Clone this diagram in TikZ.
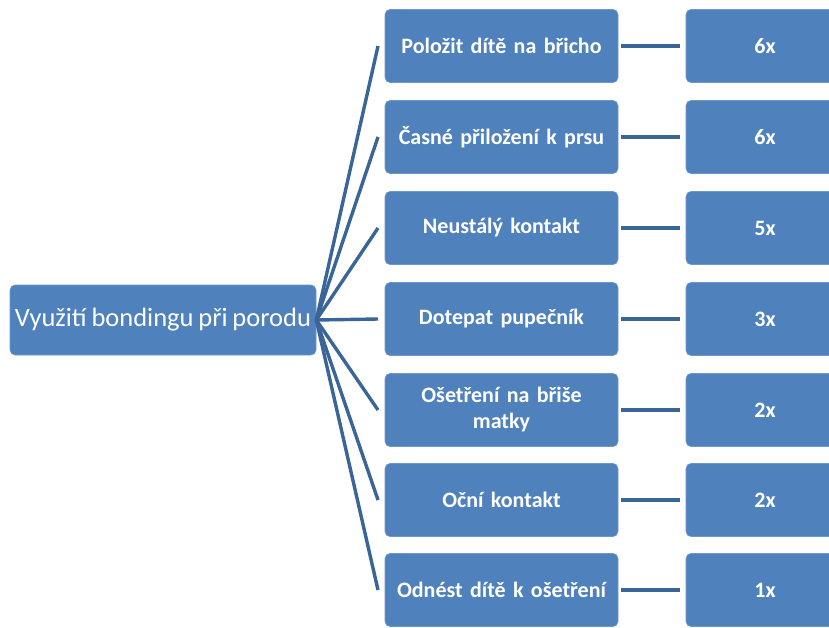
\documentclass[tikz,border=0pt]{standalone}
\usepackage{fontspec}
\setmainfont{Carlito}[WordSpace=0.8]
\definecolor{boxblue}{HTML}{4F81BD}
\definecolor{boxedge}{HTML}{6F97C8}
\definecolor{linkblue}{HTML}{3A6597}
\begin{document}
\begin{tikzpicture}[x=1pt,y=-1pt,
  card/.style={rectangle, rounded corners=5pt, fill=boxblue, draw=boxedge, line width=0.6pt,
    text=white, align=center, inner sep=2pt},
  rootcard/.style={card, minimum width=306pt, minimum height=70pt, font=\fontsize{26.5}{30}\selectfont},
  midcard/.style={card, minimum width=233pt, minimum height=73pt, text width=225pt, font=\bfseries\fontsize{22}{26}\selectfont},
  countcard/.style={card, minimum width=158pt, minimum height=73pt, font=\bfseries\fontsize{22}{26}\selectfont},
  link/.style={draw=linkblue, line width=3.4pt}]
\useasboundingbox (0,0) rectangle (829,627);
\clip (0,0) rectangle (829,627);

\node[rootcard] (root) at (163,320) {Využití bondingu při porodu};

\foreach \i/\y/\txt/\cnt in {
  1/46/{Položit dítě na břicho}/6x,
  2/137/{Časné přiložení k prsu}/6x,
  3/228/{Neustálý kontakt}/5x,
  4/319/{Dotepat pupečník}/3x,
  5/410/{Ošetření na břiše\\matky}/2x,
  6/500/{Oční kontakt}/2x,
  7/590/{Odnést dítě k ošetření}/1x}{
  \node[midcard] (m\i) at (501.5,\y) {\txt};
  \node[countcard] (c\i) at (765,\y) {\cnt};
  \coordinate (in\i) at (378,\y);
  \draw[link] (root.east) -- (in\i);
  \draw[link] ([xshift=3pt]m\i.east) -- ([xshift=-6pt]c\i.west);
}
\end{tikzpicture}
\end{document}
